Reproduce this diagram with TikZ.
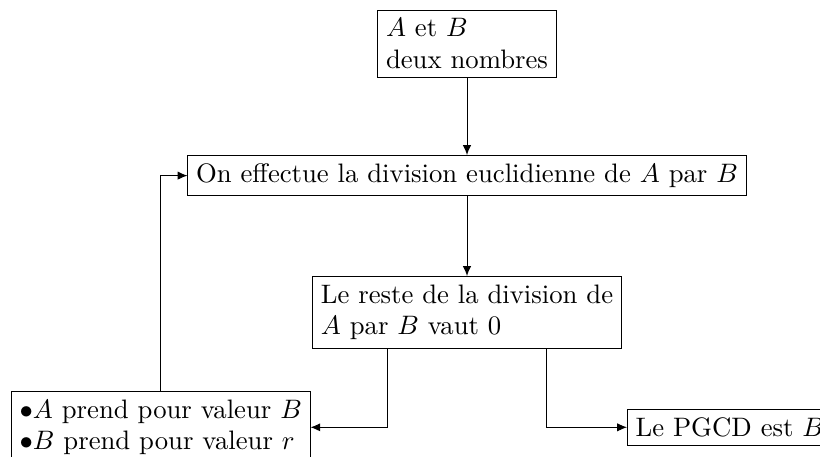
\documentclass[tikz,border=0pt]{standalone}
\usetikzlibrary{arrows.meta}
\begin{document}
\begin{tikzpicture}[x=0.41pt,y=-0.41pt,
  font=\fontsize{10.95}{13}\selectfont,
  box/.style={draw, align=left, inner sep=0.3333em, line width=0.4pt},
  arr/.style={-{Latex[length=4pt,width=3.4pt]}, line width=0.4pt}]
\useasboundingbox (0,0) rectangle (820,457);
\node[box, anchor=north] (b1) at (467,10) {$A$ et $B$\\deux nombres};
\node[box, anchor=north] (b2) at (467,155) {On effectue la division euclidienne de $A$ par $B$};
\node[box, anchor=north] (b3) at (467,276) {Le reste de la division de\\$A$ par $B$ vaut $0$};
\node[box, anchor=north west] (b4) at (11,391) {$\bullet A$ prend pour valeur $B$\\$\bullet B$ prend pour valeur $r$};
\node[box, anchor=north west] (b5) at (627,409) {Le PGCD est $B$};
\draw[arr] (b1.south) -- (b2.north);
\draw[arr] (b2.south) -- (b3.north);
\draw[arr] ([xshift=-32.6pt]b3.south) |- (b4.east);
\draw[arr] ([xshift=32.6pt]b3.south) |- (b5.west);
\draw[arr] (b4.north) |- (b2.west);
\end{tikzpicture}
\end{document}
